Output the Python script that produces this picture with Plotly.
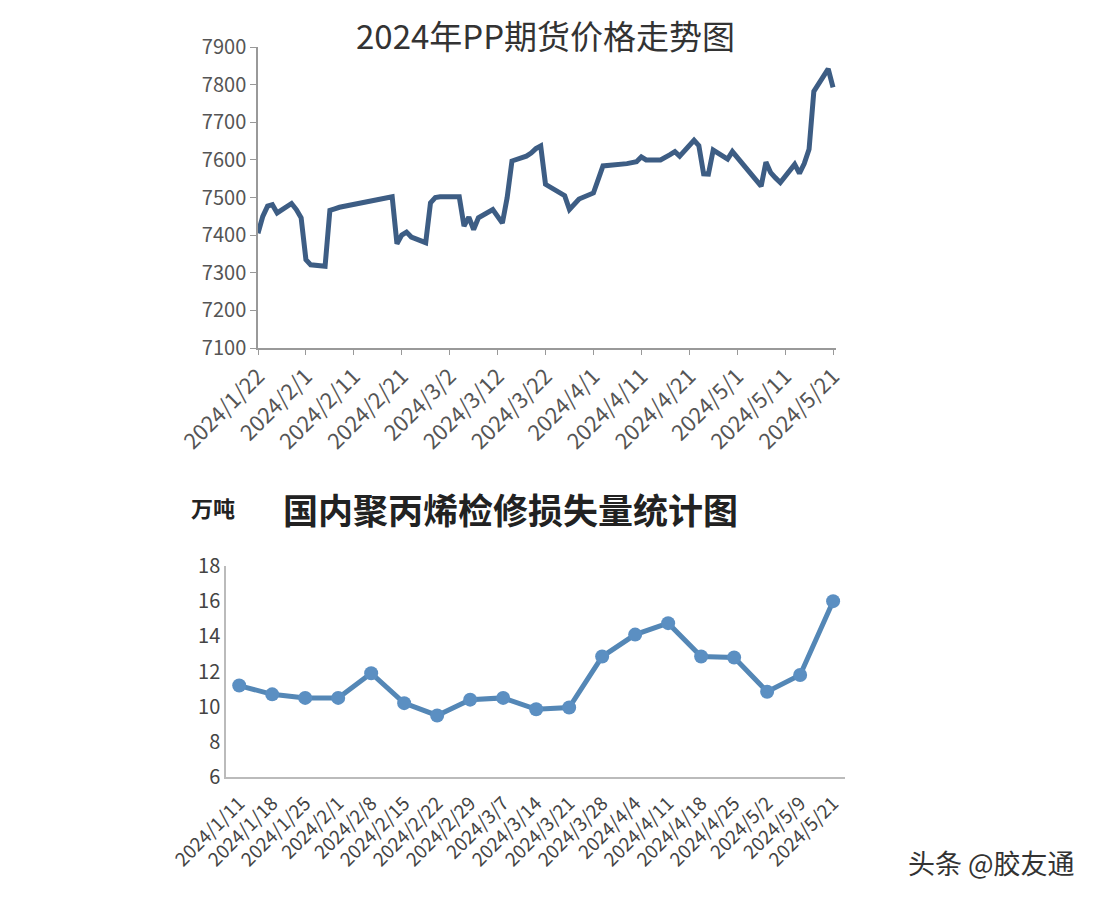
import plotly.graph_objects as go

W, H = 1104, 904

# ---- Top chart data: PP futures price ----
pp_dates = [
    "2024-01-22", "2024-01-23", "2024-01-24", "2024-01-25", "2024-01-26",
    "2024-01-29", "2024-01-30", "2024-01-31", "2024-02-01", "2024-02-02",
    "2024-02-05", "2024-02-06", "2024-02-07", "2024-02-08",
    "2024-02-19", "2024-02-20", "2024-02-21", "2024-02-22", "2024-02-23",
    "2024-02-26", "2024-02-27", "2024-02-28", "2024-02-29", "2024-03-01",
    "2024-03-04", "2024-03-05", "2024-03-06", "2024-03-07", "2024-03-08",
    "2024-03-11", "2024-03-12", "2024-03-13", "2024-03-14", "2024-03-15",
    "2024-03-18", "2024-03-19", "2024-03-20", "2024-03-21", "2024-03-22",
    "2024-03-25", "2024-03-26", "2024-03-27", "2024-03-28", "2024-03-29",
    "2024-04-01", "2024-04-02", "2024-04-03",
    "2024-04-08", "2024-04-09", "2024-04-10", "2024-04-11", "2024-04-12",
    "2024-04-15", "2024-04-16", "2024-04-17", "2024-04-18", "2024-04-19",
    "2024-04-22", "2024-04-23", "2024-04-24", "2024-04-25", "2024-04-26",
    "2024-04-29", "2024-04-30",
    "2024-05-06", "2024-05-07", "2024-05-08", "2024-05-09", "2024-05-10",
    "2024-05-13", "2024-05-14", "2024-05-15", "2024-05-16", "2024-05-17",
    "2024-05-20", "2024-05-21",
]
pp_price = [
    7405, 7450, 7477, 7481, 7459,
    7484, 7468, 7446, 7335, 7321,
    7317, 7466, 7470, 7474,
    7502, 7377, 7400, 7408, 7395,
    7380, 7486, 7500, 7502, 7502,
    7502, 7424, 7448, 7415, 7446,
    7468, 7448, 7432, 7500, 7597,
    7610, 7618, 7630, 7637, 7535,
    7515, 7505, 7468, 7482, 7496,
    7512, 7548, 7584,
    7590, 7592, 7595, 7608, 7600,
    7600, 7606, 7614, 7622, 7610,
    7652, 7638, 7563, 7562, 7626,
    7602, 7622,
    7530, 7594, 7566, 7552, 7540,
    7588, 7564, 7590, 7628, 7782,
    7842, 7793,
]
pp_y_ticks = [7100, 7200, 7300, 7400, 7500, 7600, 7700, 7800, 7900]
pp_x_ticks = ["2024-01-22", "2024-02-01", "2024-02-11", "2024-02-21", "2024-03-02",
              "2024-03-12", "2024-03-22", "2024-04-01", "2024-04-11", "2024-04-21",
              "2024-05-01", "2024-05-11", "2024-05-21"]
pp_x_labels = ["2024/1/22", "2024/2/1", "2024/2/11", "2024/2/21", "2024/3/2",
               "2024/3/12", "2024/3/22", "2024/4/1", "2024/4/11", "2024/4/21",
               "2024/5/1", "2024/5/11", "2024/5/21"]

# ---- Bottom chart data: maintenance loss (10k tons) ----
loss_dates = ["2024/1/11", "2024/1/18", "2024/1/25", "2024/2/1", "2024/2/8",
              "2024/2/15", "2024/2/22", "2024/2/29", "2024/3/7", "2024/3/14",
              "2024/3/21", "2024/3/28", "2024/4/4", "2024/4/11", "2024/4/18",
              "2024/4/25", "2024/5/2", "2024/5/9", "2024/5/21"]
loss_values = [11.2, 10.7, 10.5, 10.5, 11.9,
               10.2, 9.5, 10.4, 10.5, 9.85,
               9.95, 12.85, 14.1, 14.75, 12.85,
               12.8, 10.85, 11.8, 16.0]
loss_y_ticks = [6, 8, 10, 12, 14, 16, 18]

FONT = "Noto Sans CJK SC"
OX, OY = 8, 8  # page body margin

def px_x(p):
    return (p - OX) / W

def px_y(p):
    return 1 - (p - OY) / H

fig = go.Figure()

fig.add_trace(go.Scatter(
    x=pp_dates, y=pp_price, mode="lines",
    line=dict(color="#3d5d84", width=5),
    xaxis="x", yaxis="y", showlegend=False,
))

fig.add_trace(go.Scatter(
    x=loss_dates, y=loss_values, mode="lines+markers",
    line=dict(color="#5487b6", width=5),
    marker=dict(color="#5b8fc2", size=14),
    xaxis="x2", yaxis="y2", showlegend=False,
))

fig.update_layout(
    width=W, height=H,
    margin=dict(l=0, r=0, t=0, b=0),
    paper_bgcolor="white", plot_bgcolor="white",
    font=dict(family=FONT, color="#555"),
    xaxis=dict(
        domain=[px_x(258), px_x(836)],
        type="date", automargin=False,
        range=["2024-01-22", "2024-05-21 15:00"],
        tickmode="array", tickvals=pp_x_ticks, ticktext=pp_x_labels,
        tickangle=-45, tickfont=dict(size=22, color="#555"),
        showgrid=False, zeroline=False,
        showline=True, linecolor="#999", linewidth=1.5,
        ticks="outside", ticklen=5, tickcolor="#999",
        anchor="y",
    ),
    yaxis=dict(
        domain=[px_y(348), px_y(47)],
        range=[7100, 7900], automargin=False,
        tickmode="array", tickvals=pp_y_ticks,
        tickfont=dict(size=20, color="#555"),
        showgrid=False, zeroline=False,
        showline=True, linecolor="#999", linewidth=1.5,
        ticks="outside", ticklen=6, tickcolor="#999",
        anchor="x",
    ),
    xaxis2=dict(
        domain=[px_x(226), px_x(845)],
        type="category", automargin=False,
        range=[-0.4, 18.36],
        tickangle=-45, tickfont=dict(size=19, color="#444"),
        showgrid=False, zeroline=False,
        showline=True, linecolor="#bbb", linewidth=1.5,
        ticks="outside", ticklen=6, tickcolor="rgba(0,0,0,0)",
        anchor="y2",
    ),
    yaxis2=dict(
        domain=[px_y(777), px_y(566)],
        range=[6, 18], automargin=False,
        tickmode="array", tickvals=loss_y_ticks,
        tickfont=dict(size=20, color="#444"),
        showgrid=False, zeroline=False,
        showline=True, linecolor="#bbb", linewidth=1.5,
        ticks="", anchor="x2",
    ),
    annotations=[
        dict(text="2024年PP期货价格走势图", x=px_x(545), y=px_y(35),
             xref="paper", yref="paper", showarrow=False,
             xanchor="center", yanchor="middle",
             font=dict(size=33, color="#333", family=FONT)),
        dict(text="<b>国内聚丙烯检修损失量统计图</b>", x=px_x(510), y=px_y(508),
             xref="paper", yref="paper", showarrow=False,
             xanchor="center", yanchor="middle",
             font=dict(size=35, color="#222", family=FONT)),
        dict(text="<b>万吨</b>", x=px_x(213), y=px_y(507),
             xref="paper", yref="paper", showarrow=False,
             xanchor="center", yanchor="middle",
             font=dict(size=22, color="#222", family=FONT)),
        dict(text="头条 @胶友通", x=px_x(991), y=px_y(862),
             xref="paper", yref="paper", showarrow=False,
             xanchor="center", yanchor="middle",
             font=dict(size=27, color="#333", family=FONT)),
    ],
)

fig.write_html("out.html")
